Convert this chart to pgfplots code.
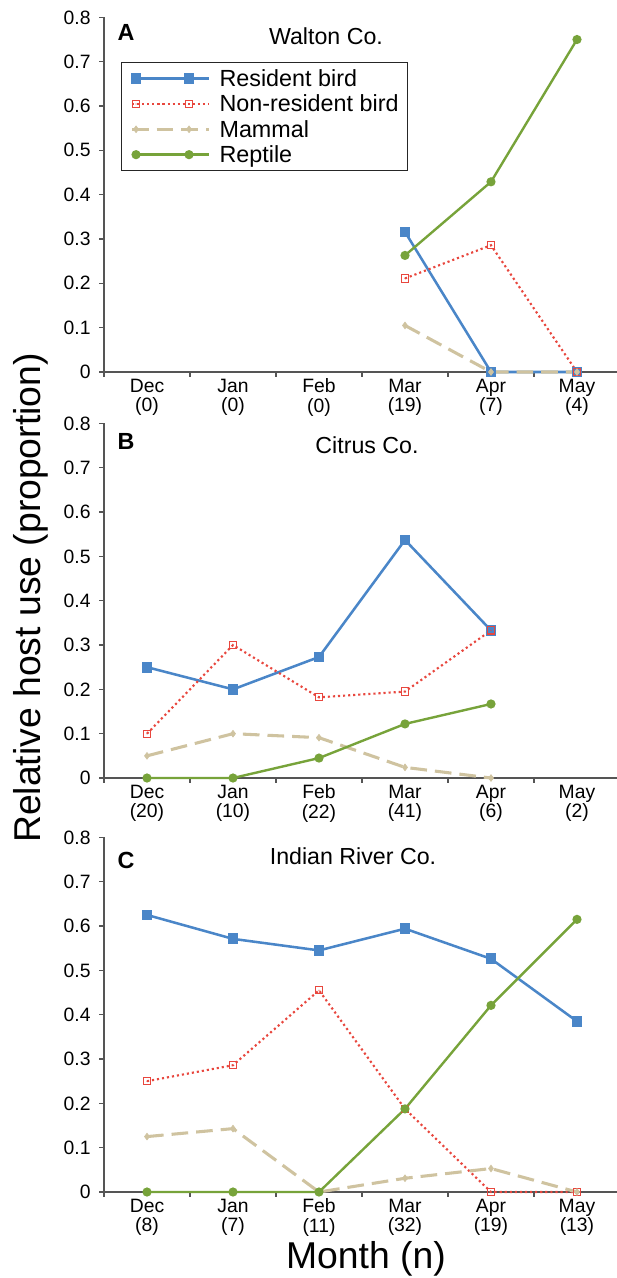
\documentclass[border=0pt]{standalone}
\usepackage{fontspec}
\setmainfont{Liberation Sans}
\usepackage{pgfplots}
\usepackage{pgfplotstable}
\pgfplotsset{compat=1.18}

\definecolor{resblue}{HTML}{4A86C8}
\definecolor{nonred}{HTML}{E8473E}
\definecolor{mamtan}{HTML}{CFC3A0}
\definecolor{repgreen}{HTML}{77A33A}
\definecolor{axisgray}{HTML}{555555}

\pgfdeclareplotmark{sqdot}{%
  \pgfpathrectangle{\pgfqpoint{-\pgfplotmarksize}{-\pgfplotmarksize}}{\pgfqpoint{2\pgfplotmarksize}{2\pgfplotmarksize}}%
  \pgfusepathqstroke
  \pgfpathcircle{\pgfpointorigin}{0.5pt}%
  \pgfusepathqfill
}

\pgfplotstableread{
x res non mam rep
3 0.316 0.211 0.105 0.263
4 0 0.286 0 0.429
5 0 0 0 0.75
}\dataA
\pgfplotstableread{
x res non mam rep
0 0.25 0.1 0.05 0
1 0.2 0.3 0.1 0
2 0.273 0.182 0.091 0.045
3 0.537 0.195 0.024 0.122
4 0.333 0.333 0 0.167
}\dataB
\pgfplotstableread{
x res non mam rep
0 0.625 0.25 0.125 0
1 0.571 0.286 0.143 0
2 0.545 0.455 0 0
3 0.594 0.1875 0.031 0.1875
4 0.526 0 0.053 0.421
5 0.385 0 0 0.615
}\dataC

\pgfplotsset{
  panel/.style={
    width=387pt, height=266pt, scale only axis,
    xmin=-0.5, xmax=5.5, ymin=0, ymax=0.8,
    axis lines*=left, clip=false,
    axis line style={draw=axisgray, line width=0.9pt},
    every tick/.style={draw=axisgray, line width=0.9pt},
    tick align=outside,
    major tick length=3.5pt,
    ytick={0,0.1,...,0.8},
    yticklabel style={font=\fontsize{14.5}{14.5}\selectfont, xshift=-3pt},
    /pgf/number format/.cd, fixed, precision=1, assume math mode=true, /pgfplots/.cd,
    xtick={-0.5,0.5,1.5,2.5,3.5,4.5},
    xticklabels={,,,,,},
    extra x ticks={0,1,2,3,4,5},
    extra x tick style={major tick length=0pt,
      xticklabel style={align=center, font=\fontsize{14.5}{14.5}\selectfont, yshift=-1.5pt}},
  },
  resstyle/.style={resblue, line width=1.9pt, mark=square*, mark size=3.1pt, mark options={solid, fill=resblue}},
  nonstyle/.style={nonred, line width=1.6pt, dash pattern=on 1.6pt off 2.2pt, mark=sqdot, mark size=2.7pt, mark options={solid, line width=0.8pt, fill=nonred}},
  mamstyle/.style={mamtan, line width=2.3pt, dash pattern=on 12.5pt off 6pt, mark=diamond*, mark size=2.5pt, mark options={solid, line width=0.5pt, fill=mamtan}},
  repstyle/.style={repgreen, line width=1.8pt, mark=*, mark size=2.5pt, mark options={solid, fill=repgreen}},
}

\begin{document}
\begin{tikzpicture}
\useasboundingbox (0pt,0pt) rectangle (462.75pt,-958.5pt);

% Panel A
\begin{axis}[panel, at={(78pt,-279pt)}, anchor=south west,
  extra x tick labels={{Dec\\(0)},{Jan\\(0)},{Feb\\(0)},{Mar\\(19)},{Apr\\(7)},{May\\(4)}},
  legend style={at={(axis description cs:0.0329,0.8745)}, anchor=north west,
    draw=black!85, line width=0.8pt, fill=white,
    inner xsep=6.75pt, inner ysep=5.2pt,
    font=\fontsize{17.5}{19}\selectfont,
    row sep=5pt,
    nodes={inner sep=0pt, text height=13pt, text depth=1pt},
    /tikz/every odd column/.append style={column sep=6.75pt}},
  legend cell align=left,
  legend image code/.code={
    \draw[mark=none] (0pt,0pt) -- (57.75pt,0pt);
    \draw[only marks] plot coordinates {(3pt,0pt) (42.75pt,0pt)};
  },
]
\addplot[resstyle] table[x=x,y=res] {\dataA};
\addlegendentry{Resident bird}
\addplot[nonstyle] table[x=x,y=non] {\dataA};
\addlegendentry{Non-resident bird}
\addplot[mamstyle] table[x=x,y=mam] {\dataA};
\addlegendentry{Mammal}
\addplot[repstyle] table[x=x,y=rep] {\dataA};
\addlegendentry{Reptile}
\end{axis}

% Panel B
\begin{axis}[panel, at={(78pt,-583.5pt)}, anchor=south west,
  extra x tick labels={{Dec\\(20)},{Jan\\(10)},{Feb\\(22)},{Mar\\(41)},{Apr\\(6)},{May\\(2)}},
]
\addplot[resstyle] table[x=x,y=res] {\dataB};
\addplot[nonstyle] table[x=x,y=non] {\dataB};
\addplot[mamstyle] table[x=x,y=mam] {\dataB};
\addplot[repstyle] table[x=x,y=rep] {\dataB};
\end{axis}

% Panel C
\begin{axis}[panel, at={(78pt,-894pt)}, anchor=south west,
  extra x tick labels={{Dec\\(8)},{Jan\\(7)},{Feb\\(11)},{Mar\\(32)},{Apr\\(19)},{May\\(13)}},
]
\addplot[resstyle] table[x=x,y=res] {\dataC};
\addplot[nonstyle] table[x=x,y=non] {\dataC};
\addplot[mamstyle] table[x=x,y=mam] {\dataC};
\addplot[repstyle] table[x=x,y=rep] {\dataC};
\end{axis}

% panel letters and titles
\node[font=\fontsize{17.5}{17.5}\selectfont\bfseries, inner sep=0pt] at (94.5pt,-24.4pt) {A};
\node[font=\fontsize{17.5}{17.5}\selectfont\bfseries, inner sep=0pt] at (94.5pt,-331.3pt) {B};
\node[font=\fontsize{17.5}{17.5}\selectfont\bfseries, inner sep=0pt] at (94.5pt,-645pt) {C};
\node[font=\fontsize{17.4}{17.4}\selectfont, inner sep=0pt] at (244.5pt,-27.5pt) {Walton Co.};
\node[font=\fontsize{17.4}{17.4}\selectfont, inner sep=0pt] at (275.25pt,-333.75pt) {Citrus Co.};
\node[font=\fontsize{17.4}{17.4}\selectfont, inner sep=0pt] at (264.75pt,-642.5pt) {Indian River Co.};

% axis titles
\node[font=\fontsize{28}{28}\selectfont, inner sep=0pt, rotate=90, anchor=base] at (30pt,-448.5pt) {Relative host use (proportion)};
\node[font=\fontsize{28}{28}\selectfont, inner sep=0pt, anchor=base] at (274.5pt,-951pt) {Month (n)};
\end{tikzpicture}
\end{document}
